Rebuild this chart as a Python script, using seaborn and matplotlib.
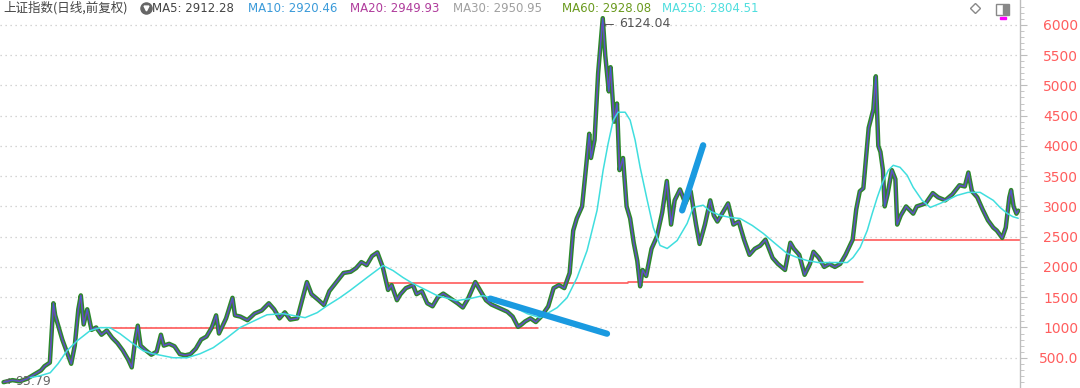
import matplotlib
matplotlib.use("Agg")
import matplotlib.pyplot as plt
import seaborn as sns
import pandas as pd
import numpy as np
from matplotlib.patches import Rectangle

# ---------------- data ----------------
price_t = [1990.95, 1991.2, 1991.4, 1991.6, 1991.8, 1992.0, 1992.1, 1992.25, 1992.35, 1992.4,
           1992.5, 1992.6, 1992.75, 1992.85, 1992.95, 1993.05, 1993.12, 1993.2, 1993.3, 1993.42,
           1993.55, 1993.7, 1993.85, 1994.0, 1994.15, 1994.3, 1994.45, 1994.55, 1994.65, 1994.72,
           1994.8, 1994.95, 1995.1, 1995.25, 1995.37, 1995.45, 1995.6, 1995.75, 1995.9, 1996.05,
           1996.2, 1996.35, 1996.5, 1996.65, 1996.8, 1996.92, 1997.0, 1997.2, 1997.38, 1997.45,
           1997.6, 1997.8, 1998.0, 1998.2, 1998.4, 1998.55, 1998.7, 1998.85, 1999.0, 1999.2,
           1999.38, 1999.47, 1999.6, 1999.8, 1999.95, 2000.1, 2000.3, 2000.5, 2000.7, 2000.85,
           2001.0, 2001.15, 2001.3, 2001.45, 2001.6, 2001.75, 2001.85, 2002.0, 2002.1, 2002.25,
           2002.45, 2002.55, 2002.7, 2002.85, 2003.0, 2003.15, 2003.3, 2003.5, 2003.7, 2003.85,
           2004.0, 2004.2, 2004.35, 2004.5, 2004.65, 2004.8, 2004.95, 2005.1, 2005.25, 2005.4,
           2005.5, 2005.6, 2005.75, 2005.9, 2006.05, 2006.25, 2006.4, 2006.55, 2006.7, 2006.85,
           2006.95, 2007.05, 2007.2, 2007.32, 2007.4, 2007.45, 2007.55, 2007.65, 2007.78, 2007.85,
           2007.95, 2008.0, 2008.1, 2008.18, 2008.25, 2008.35, 2008.45, 2008.55, 2008.65, 2008.75,
           2008.83, 2008.9, 2009.0, 2009.15, 2009.3, 2009.45, 2009.58, 2009.7, 2009.8, 2009.95,
           2010.1, 2010.25, 2010.4, 2010.5, 2010.65, 2010.8, 2010.9, 2011.0, 2011.2, 2011.3,
           2011.45, 2011.6, 2011.75, 2011.9, 2012.05, 2012.2, 2012.35, 2012.55, 2012.7, 2012.9,
           2013.05, 2013.15, 2013.3, 2013.45, 2013.6, 2013.7, 2013.85, 2014.0, 2014.15, 2014.3,
           2014.45, 2014.6, 2014.8, 2014.9, 2015.0, 2015.1, 2015.25, 2015.38, 2015.45, 2015.52,
           2015.58, 2015.65, 2015.7, 2015.78, 2015.9, 2016.0, 2016.05, 2016.15, 2016.3, 2016.5,
           2016.6, 2016.85, 2017.05, 2017.2, 2017.4, 2017.6, 2017.8, 2017.95, 2018.05, 2018.15,
           2018.3, 2018.45, 2018.6, 2018.75, 2018.85, 2019.0, 2019.1, 2019.2, 2019.25, 2019.32,
           2019.4, 2019.45]
price_v = [96, 130, 110, 150, 220, 290, 360, 420, 1400, 1200,
           1000, 800, 560, 400, 700, 1300, 1530, 1050, 1300, 960,
           1000, 880, 950, 830, 740, 620, 470, 340, 800, 1030,
           700, 620, 550, 600, 880, 700, 730, 690, 560, 540,
           560, 650, 800, 850, 1000, 1200, 900, 1150, 1490, 1200,
           1180, 1120, 1230, 1280, 1400, 1300, 1150, 1250, 1130, 1150,
           1550, 1750, 1550, 1450, 1370, 1600, 1750, 1900, 1920, 1980,
           2080, 2030, 2180, 2240, 2000, 1620, 1700, 1450, 1550, 1650,
           1700, 1550, 1600, 1400, 1350, 1500, 1560, 1480, 1400, 1330,
           1480, 1750, 1600, 1450, 1380, 1340, 1300, 1260, 1180, 1010,
           1050, 1100, 1150, 1090, 1180, 1350, 1650, 1700, 1650, 1900,
           2600, 2800, 3000, 3700, 4200, 3800, 4100, 5200, 6110, 5500,
           4900, 5300, 4400, 4700, 3600, 3800, 3000, 2800, 2400, 2100,
           1680, 1950, 1850, 2300, 2500, 2900, 3420, 2700, 3100, 3280,
           3050, 3250, 2700, 2380, 2700, 3100, 2850, 2750, 2950, 3050,
           2700, 2750, 2450, 2200, 2300, 2350, 2450, 2150, 2050, 1950,
           2400, 2300, 2200, 1870, 2050, 2250, 2150, 2000, 2050, 2000,
           2050, 2200, 2450, 2950, 3250, 3300, 4300, 4600, 5150, 4000,
           3900, 3600, 3000, 3200, 3600, 3450, 2700, 2850, 3000, 2880,
           3000, 3050, 3220, 3150, 3100, 3200, 3350, 3330, 3560, 3250,
           3150, 2950, 2770, 2650, 2600, 2480, 2650, 3150, 3270, 3000,
           2880, 2930]

ma250_t = [1991.70, 1991.98, 1992.26, 1992.48, 1992.73, 1993.02, 1993.38, 1993.66, 1993.94, 1994.22,
           1994.59, 1994.87, 1995.15, 1995.71, 1996.11, 1996.47, 1996.84, 1997.23, 1997.59, 1997.82,
           1998.35, 1998.80, 1999.42, 1999.76, 2000.04, 2000.40, 2000.68, 2001.16, 2001.61, 2001.89,
           2002.17, 2002.45, 2002.85, 2003.13, 2003.69, 2004.05, 2004.42, 2004.70, 2004.98, 2005.37,
           2005.66, 2006.02, 2006.50, 2006.78, 2007.06, 2007.34, 2007.62, 2007.79, 2007.93, 2008.07,
           2008.21, 2008.41, 2008.55, 2008.69, 2008.83, 2009.03, 2009.20, 2009.39, 2009.59, 2009.87,
           2010.15, 2010.32, 2010.60, 2010.80, 2011.08, 2011.36, 2011.64, 2011.98, 2012.29, 2012.62,
           2012.96, 2013.24, 2013.52, 2013.83, 2014.17, 2014.65, 2014.81, 2015.01, 2015.21, 2015.35,
           2015.49, 2015.63, 2015.80, 2015.94, 2016.13, 2016.33, 2016.50, 2016.75, 2016.98, 2017.26,
           2017.45, 2017.73, 2018.04, 2018.38, 2018.75, 2018.94, 2019.14, 2019.30, 2019.45]
ma250_v = [170, 203, 252, 401, 616, 781, 947, 997, 997, 897,
           732, 616, 566, 500, 500, 566, 666, 831, 997, 1063,
           1210, 1228, 1162, 1245, 1360, 1493, 1610, 1825, 2023, 1940,
           1825, 1725, 1610, 1526, 1444, 1477, 1526, 1477, 1410, 1311,
           1228, 1162, 1328, 1493, 1825, 2271, 2934, 3595, 4035, 4415,
           4556, 4556, 4424, 4094, 3646, 3100, 2652, 2355, 2305, 2437,
           2718, 2983, 3020, 2920, 2851, 2818, 2800, 2685, 2553, 2388,
           2222, 2156, 2106, 2073, 2073, 2073, 2156, 2321, 2603, 2884,
           3148, 3381, 3596, 3679, 3646, 3514, 3315, 3100, 2983, 3050,
           3100, 3182, 3232, 3232, 3100, 2983, 2884, 2830, 2804]

# support lines (start, end, level)
hline_t0 = [1993.95, 2001.7, 2008.5, 2014.8]
hline_t1 = [2005.95, 2008.5, 2015.1, 2019.5]
hline_v = [990, 1742, 1755, 2450]
# hand-drawn blue strokes
stroke1_t = [2004.62, 2007.9]
stroke1_v = [1477, 897]
stroke2_t = [2010.01, 2010.6]
stroke2_v = [2934, 4010]

yticks = [500, 1000, 1500, 2000, 2500, 3000, 3500, 4000, 4500, 5000, 5500, 6000]
ytick_labels = ["500.0", "1000", "1500", "2000", "2500", "3000", "3500", "4000",
                "4500", "5000", "5500", "6000"]

legend_items = [("MA5: 2912.28", "#444444", 152), ("MA10: 2920.46", "#3a9ad9", 248),
                ("MA20: 2949.93", "#b03c9c", 350), ("MA30: 2950.95", "#a0a0a0", 453),
                ("MA60: 2928.08", "#6a9a1e", 562), ("MA250: 2804.51", "#4fdede", 662)]

# ---------------- figure ----------------
sns.set_style("white")
plt.rcParams['font.family'] = ['Noto Sans CJK SC', 'DejaVu Sans']

W, H = 1080, 388
fig = plt.figure(figsize=(W / 100, H / 100), dpi=100)
ax = fig.add_axes([0, 0, 1020 / W, 1])

price = pd.DataFrame({"t": price_t, "v": price_v})
ma = pd.DataFrame({"t": ma250_t, "v": ma250_v})

# price band imitation
sns.lineplot(data=price, x="t", y="v", ax=ax, color="#2a8a2a", lw=3.2, sort=False, zorder=3)
sns.lineplot(data=price, x="t", y="v", ax=ax, color="#8a3a9e", lw=1.2, sort=False, zorder=4)
sns.lineplot(data=price, x="t", y="v", ax=ax, color="#2f6fd8", lw=0.5, sort=False, zorder=5)
sns.lineplot(data=ma, x="t", y="v", ax=ax, color="#40dede", lw=1.1, sort=False, zorder=6)

for a, b, v in zip(hline_t0, hline_t1, hline_v):
    ax.plot([a, b], [v, v], color="#ff4c4c", lw=1.1, zorder=2)

ax.plot(stroke1_t, stroke1_v, color="#1a9ae0", lw=4.5, solid_capstyle="round", zorder=7)
ax.plot(stroke2_t, stroke2_v, color="#1a9ae0", lw=4.5, solid_capstyle="round", zorder=7)

ax.set_xlim(1990.85, 2019.5)
ax.set_ylim(0, 6410)

# grid
for v in yticks:
    ax.axhline(v, color="#c8c8c8", lw=0.9, ls=(0, (1, 3)), zorder=1)

for s in ["top", "left", "bottom"]:
    ax.spines[s].set_visible(False)
ax.spines["right"].set_color("#bdbdbd")
ax.spines["right"].set_linewidth(1.0)
ax.set_xticks([])
ax.yaxis.tick_right()
ax.set_yticks(yticks)
ax.set_yticks(np.arange(100, 6400, 100), minor=True)
ax.set_yticklabels(ytick_labels, color="#ff5e5e", fontsize=10, family=["DejaVu Sans"])
ax.tick_params(axis="y", which="major", length=5, color="#bdbdbd", pad=37)
ax.tick_params(axis="y", which="minor", length=3, color="#bdbdbd")
for lab in ax.get_yticklabels():
    lab.set_horizontalalignment("right")
ax.set_xlabel("")
ax.set_ylabel("")

# annotations
ax.annotate("6124.04", xy=(2007.8, 6124), xytext=(2008.25, 6020), fontsize=9, color="#555555",
            family=["DejaVu Sans"], va="center",
            arrowprops=dict(arrowstyle="->", color="#555555", lw=0.7,
                            connectionstyle="angle,angleA=0,angleB=90,rad=0"))
ax.annotate("95.79", xy=(1990.87, 115), xytext=(1991.27, 115), fontsize=9, color="#666666",
            family=["DejaVu Sans"], va="center",
            arrowprops=dict(arrowstyle="->", color="#666666", lw=0.7))

# title row
ty = 1 - 8 / H
fig.text(3 / W, ty, "上证指数(日线,前复权)", fontsize=9, color="#444444", va="center")
fig.lines.append(plt.Line2D([146 / W], [ty], marker="o", markersize=8, color="#666666",
                            transform=fig.transFigure, figure=fig))
fig.lines.append(plt.Line2D([146 / W], [ty], marker="v", markersize=3.5, color="white",
                            transform=fig.transFigure, figure=fig))
for txt, col, xp in legend_items:
    fig.text(xp / W, ty, txt, fontsize=8.5, color=col, va="center", family=["DejaVu Sans"])

fig.lines.append(plt.Line2D([975 / W], [ty], marker="D", markersize=5, markerfacecolor="white",
                            markeredgecolor="#888888", color="#888888",
                            transform=fig.transFigure, figure=fig))
fig.patches.append(Rectangle((996 / W, 1 - 15 / H), 13 / W, 11 / H, fill=False,
                             edgecolor="#888888", lw=1.0, transform=fig.transFigure, figure=fig))
fig.patches.append(Rectangle((1003 / W, 1 - 14 / H), 5 / W, 9 / H, color="#888888",
                             transform=fig.transFigure, figure=fig))
fig.patches.append(Rectangle((1000 / W, 1 - 19 / H), 6 / W, 2 / H, color="#ff00ff",
                             transform=fig.transFigure, figure=fig))

fig.savefig("out.png", dpi=100)
